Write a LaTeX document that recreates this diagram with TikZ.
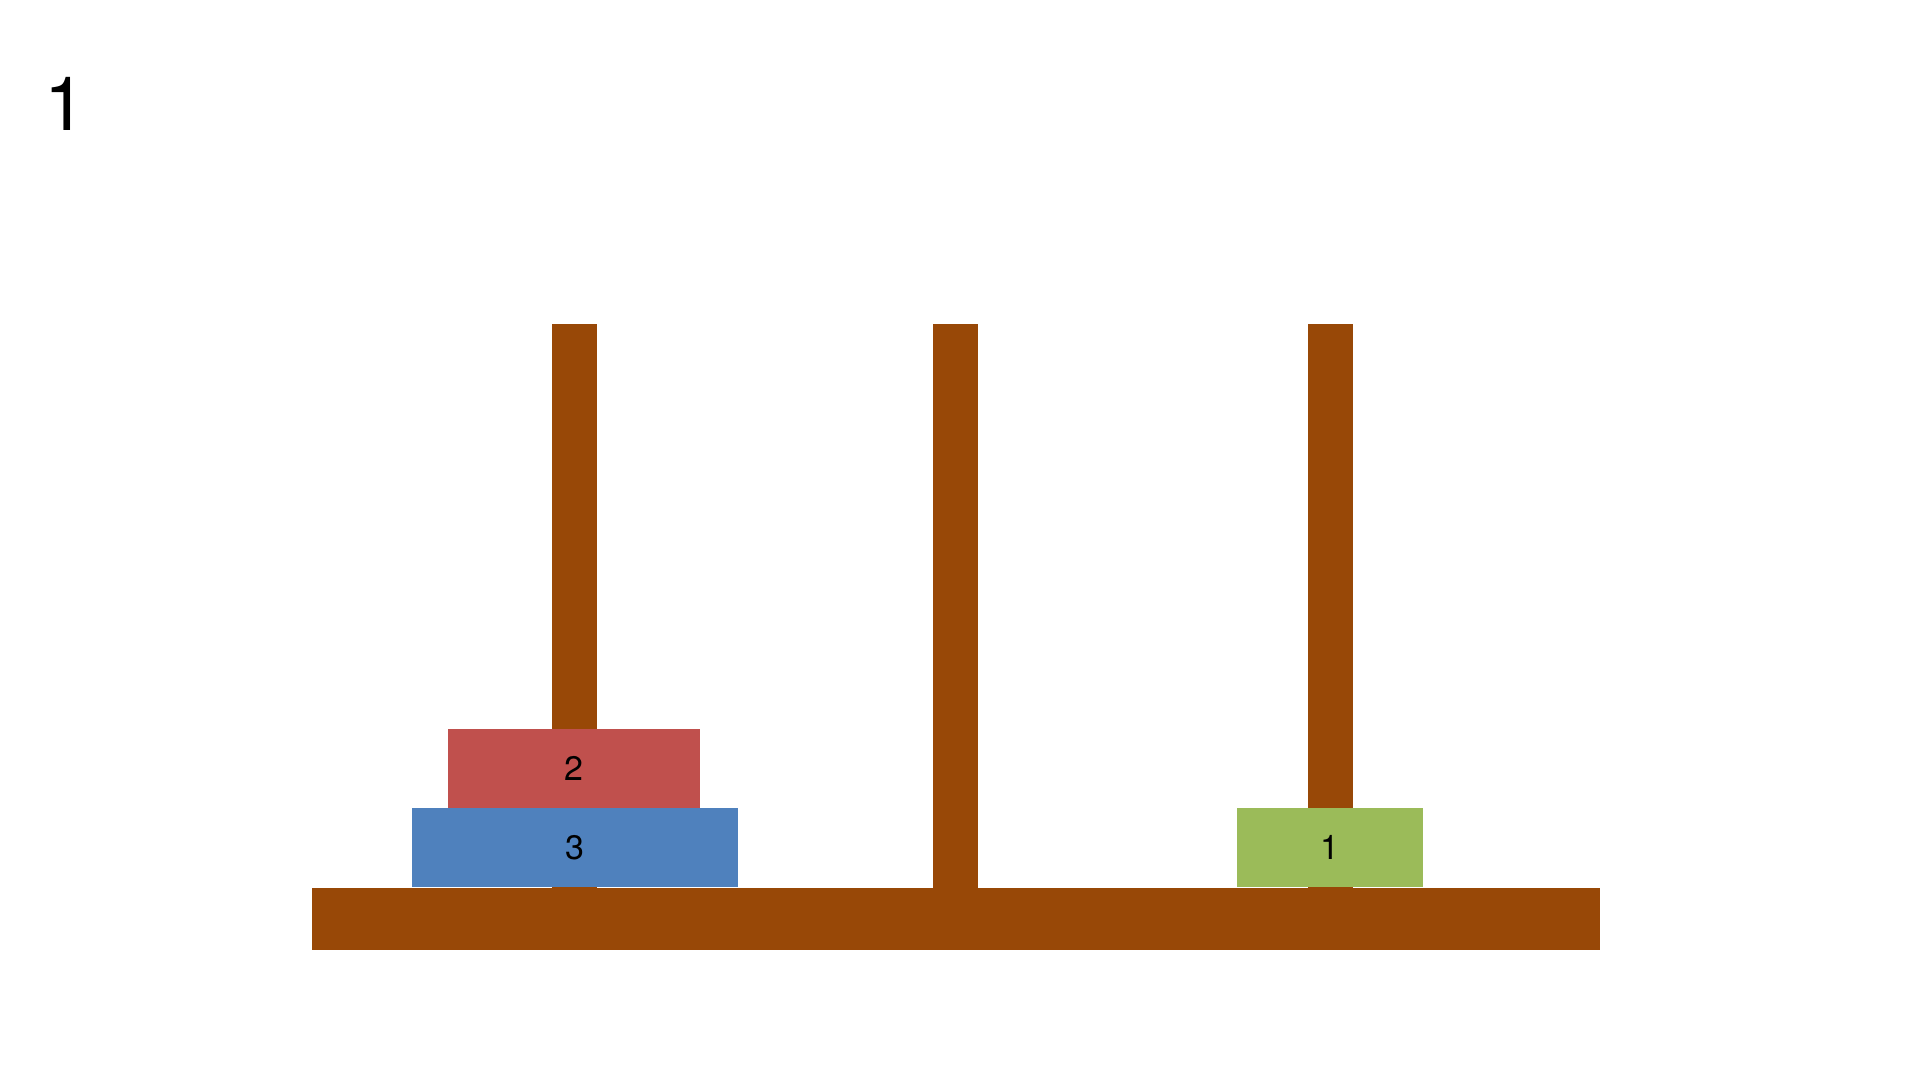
\documentclass[tikz,border=0pt]{standalone}
\usepackage{fontspec}
\setmainfont{TeX Gyre Heros}
\definecolor{wood}{HTML}{984807}
\definecolor{diskred}{HTML}{C0504D}
\definecolor{diskblue}{HTML}{4F81BD}
\definecolor{diskgreen}{HTML}{9BBB59}
\begin{document}
\begin{tikzpicture}[x=1pt,y=-1pt,
  block/.style={rectangle,inner sep=0pt,outer sep=0pt,draw=none,anchor=north west},
  disk/.style={block,font=\fontsize{34}{36}\selectfont,text=black}]
\useasboundingbox[fill=white] (0,0) rectangle (1920,1080);
% base and poles
\node[block,fill=wood,minimum width=1288pt,minimum height=62pt] (base) at (312,888) {};
\node[block,fill=wood,minimum width=45pt,minimum height=564pt] (poleA) at (552,324) {};
\node[block,fill=wood,minimum width=45pt,minimum height=564pt] (poleB) at (933,324) {};
\node[block,fill=wood,minimum width=45pt,minimum height=564pt] (poleC) at (1308,324) {};
% disks
\node[disk,fill=diskblue,minimum width=326pt,minimum height=79pt] (d3) at (412,808) {3};
\node[disk,fill=diskred,minimum width=252pt,minimum height=79pt] (d2) at (448,729) {2};
\node[disk,fill=diskgreen,minimum width=186pt,minimum height=79pt] (d1) at (1237,808) {1};
% step label
\node[inner sep=0pt,font=\fontsize{75}{80}\selectfont] (steplabel) at (65,103.5) {1};
\end{tikzpicture}
\end{document}
